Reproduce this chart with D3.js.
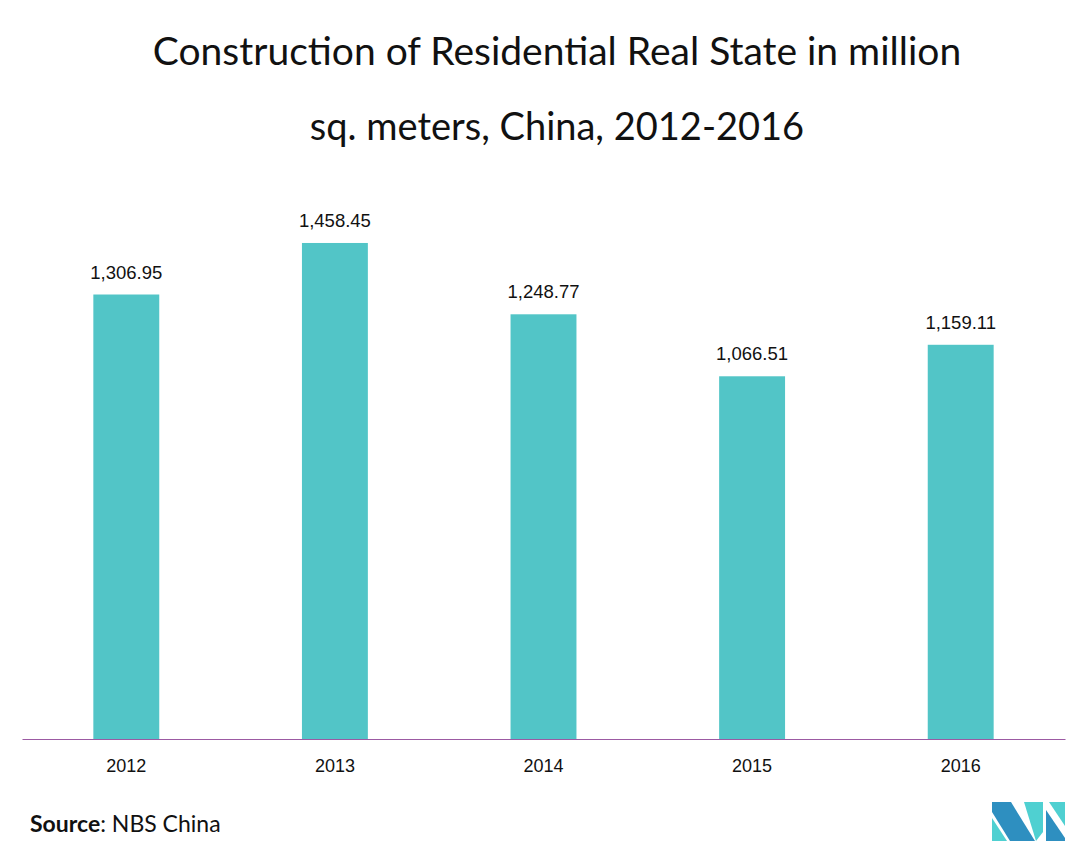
<!DOCTYPE html>
<html><head><meta charset="utf-8">
<script src="https://cdn.jsdelivr.net/npm/d3@7"></script>
<style>body{margin:0;background:#fff}svg{display:block}</style>
</head><body>
<svg id="c" width="1088" height="843"></svg>
<script>
const years = ["2012","2013","2014","2015","2016"];
const values = [1306.95, 1458.45, 1248.77, 1066.51, 1159.11];
const valueLabels = ["1,306.95","1,458.45","1,248.77","1,066.51","1,159.11"];
const titleLines = ["Construction of Residential Real State in million","sq. meters, China, 2012-2016"];

const svg = d3.select("#c");
const x = d3.scaleBand().domain(years).range([22,1065]).paddingInner(0.684).paddingOuter(0.342);
const y = d3.scaleLinear().domain([0,1500]).range([739, 739-1500*0.3401]);

svg.selectAll("text.title").data(titleLines).enter().append("text")
  .attr("class","title").attr("x",557).attr("y",(d,i)=>65+i*75)
  .attr("text-anchor","middle").attr("font-family","Lato, 'Open Sans', sans-serif")
  .attr("font-size",(d,i)=>i===0?39:38).attr("fill","#111").text(d=>d);

svg.selectAll("rect.bar").data(values).enter().append("rect")
  .attr("class","bar").attr("x",(d,i)=>x(years[i])).attr("width",x.bandwidth())
  .attr("y",d=>y(d)).attr("height",d=>y(0)-y(d)).attr("fill","#52c5c7");

svg.selectAll("text.val").data(values).enter().append("text")
  .attr("class","val").attr("x",(d,i)=>x(years[i])+x.bandwidth()/2).attr("y",d=>y(d)-16)
  .attr("text-anchor","middle").attr("font-family","'Liberation Sans', Arial, sans-serif")
  .attr("font-size",18.5).attr("fill","#111").text((d,i)=>valueLabels[i]);

const xAxis = svg.append("g").attr("transform","translate(0,739)")
  .call(d3.axisBottom(x).tickSize(0).tickPadding(20).tickSizeOuter(0));
xAxis.select(".domain").attr("stroke","#9c5aa3").attr("stroke-width",1.2);
xAxis.selectAll("text").attr("font-family","'Liberation Sans', Arial, sans-serif").attr("font-size",18).attr("fill","#111");

const src = svg.append("text").attr("x",30).attr("y",832)
  .attr("font-family","Lato, 'Open Sans', sans-serif").attr("font-size",23).attr("fill","#111");
src.append("tspan").attr("font-weight","bold").text("Source");
src.append("tspan").text(": NBS China");

// logo
const logo = svg.append("g");
const dark = "#2e8fc0", light = "#4fd0d1";
const shapes = [
  {c:light, p:[[992,818],[1007,841],[992,841]]},
  {c:dark, p:[[992,802],[1011,802],[1035,841],[1010,841],[992,812]]},
  {c:light, p:[[1024,802],[1043,802],[1043,832],[1036,841]]},
  {c:light, p:[[1049,802],[1065,802],[1065,826]]},
  {c:dark, p:[[1046,810],[1065,838],[1065,841],[1046,841]]}
];
logo.selectAll("path").data(shapes).enter().append("path")
  .attr("d",d=>d3.line()(d.p)+"Z").attr("fill",d=>d.c);
</script>
</body></html>
